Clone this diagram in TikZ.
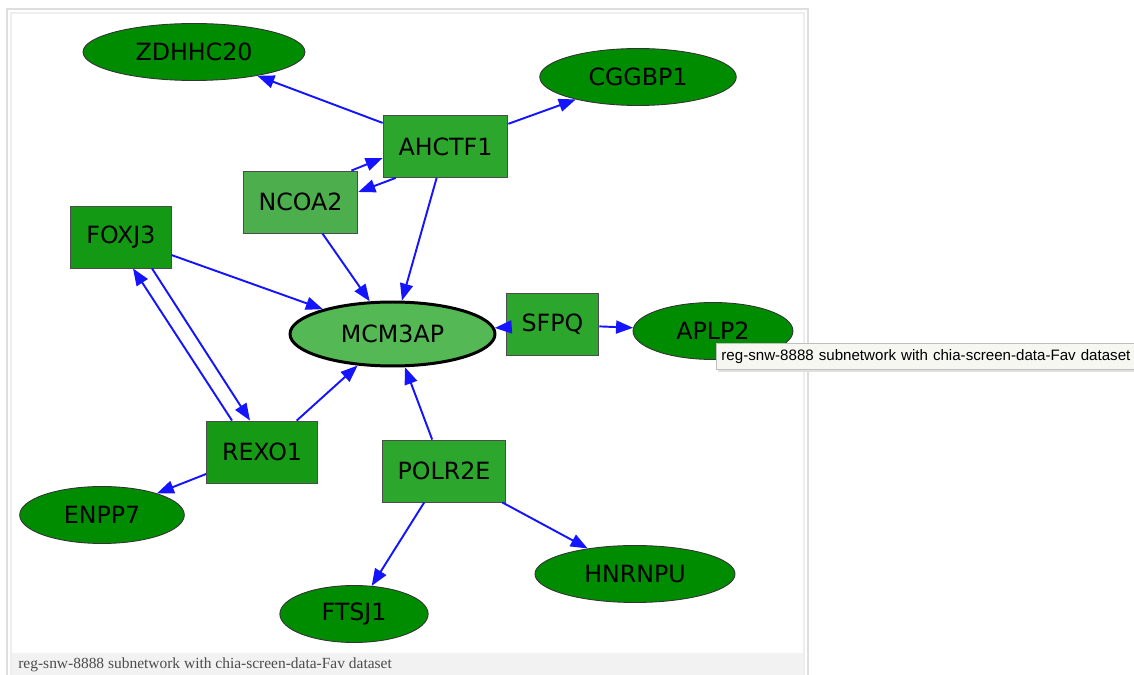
\documentclass[tikz,border=0pt]{standalone}
\usepackage{fontspec}
\newfontfamily\genefont{DejaVu Sans}
\newfontfamily\captionfont{Liberation Serif}
\newfontfamily\tipfont{Liberation Sans}
\usetikzlibrary{arrows.meta,shapes.geometric}

\definecolor{targetgreen}{RGB}{0,140,0}
\definecolor{hubgreen}{RGB}{84,184,84}
\definecolor{tfdark}{RGB}{20,153,20}
\definecolor{tfmid}{RGB}{44,166,44}
\definecolor{tflight}{RGB}{76,174,76}
\definecolor{edgeblue}{RGB}{20,20,255}
\definecolor{framegray}{RGB}{222,222,222}
\definecolor{capbg}{RGB}{242,242,242}
\definecolor{tipbg}{RGB}{247,247,242}

\begin{document}
\begin{tikzpicture}[x=0.02cm, y=-0.02cm,
    gene/.style={font=\genefont\fontsize{13.5}{15}\selectfont, text=black},
    target/.style={gene, ellipse, draw=black!80, line width=0.5pt, fill=targetgreen,
        inner xsep=0.4cm, inner ysep=0pt, minimum height=1.14cm},
    tf/.style={gene, rectangle, draw=black!70, line width=0.5pt,
        inner xsep=0.31cm, inner ysep=0pt, minimum height=1.24cm},
    hub/.style={gene, ellipse, draw=black, line width=1.7pt, fill=hubgreen,
        inner xsep=0.4cm, inner ysep=0pt, minimum width=4.1cm, minimum height=1.28cm},
    regulates/.style={draw=edgeblue, line width=1.1pt, -{Triangle[length=0.34cm, width=0.26cm]}}]
    \clip (0,0) rectangle (1134,675);

    % frame and caption strip
    \fill[capbg] (11,653) rectangle (804,680);
    \draw[framegray, line width=0.6pt] (7,680) |- (808,9) -- (808,680);
    \draw[framegray!50, line width=0.6pt] (11,680) |- (804,13) -- (804,680);
    \node[font=\captionfont\fontsize{8.8}{11}\selectfont, text=black!70, anchor=base west,
        inner sep=0pt] (caption) at (18,669) {reg-snw-8888 subnetwork with chia-screen-data-Fav dataset};

    \node[target] (zdhhc20) at (194,  52) {ZDHHC20};
    \node[target] (cggbp1)  at (638,  77) {CGGBP1};
    \node[tf, fill=tfmid]   (ahctf1)  at (445.5, 146.5) {AHCTF1};
    \node[tf, fill=tflight] (ncoa2)   at (300.5, 202) {NCOA2};
    \node[tf, fill=tfdark]  (foxj3)   at (121, 237) {FOXJ3};
    \node[hub]              (mcm3ap)  at (392.5, 334) {MCM3AP};
    \node[tf, fill=tfmid]   (sfpq)    at (552.5, 324.5) {SFPQ};
    \node[target] (aplp2)   at (713, 331) {APLP2};
    \node[tf, fill=tfdark!90!tfmid] (rexo1) at (262, 452) {REXO1};
    \node[tf, fill=tfmid]   (polr2e)  at (444, 471) {POLR2E};
    \node[target] (enpp7)   at (102, 515) {ENPP7};
    \node[target] (ftsj1)   at (354, 614) {FTSJ1};
    \node[target] (hnrnpu)  at (635, 574) {HNRNPU};

    \draw[regulates] (ahctf1) -- (zdhhc20);
    \draw[regulates] (ahctf1) -- (cggbp1);
    \draw[regulates] ([xshift=-0.14cm]ncoa2.north east) -- ([yshift=-0.23cm]ahctf1.west);
    \draw[regulates] ([xshift=0.26cm]ahctf1.south west) -- ([yshift=0.2cm]ncoa2.east);
    \draw[regulates] (ahctf1) -- (mcm3ap);
    \draw[regulates] (ncoa2) -- (mcm3ap);
    \draw[regulates] (foxj3) -- (mcm3ap);
    \draw[regulates] ([xshift=0.62cm]foxj3.south) -- ([xshift=-0.24cm]rexo1.north);
    \draw[regulates] ([xshift=-0.6cm]rexo1.north) -- ([xshift=0.24cm]foxj3.south);
    \draw[regulates] (rexo1) -- (mcm3ap);
    \draw[regulates] (rexo1) -- (enpp7);
    \draw[regulates] (sfpq) -- (mcm3ap);
    \draw[regulates] (sfpq) -- (aplp2);
    \draw[regulates] (polr2e) -- (mcm3ap);
    \draw[regulates] (polr2e) -- (ftsj1);
    \draw[regulates] (polr2e) -- (hnrnpu);

    % tooltip
    \fill[black!12] (718,345) rectangle (1140,372);
    \node[draw=black!25, fill=tipbg, line width=0.5pt, anchor=north west,
        minimum height=0.52cm, text width=9.6cm, inner xsep=0.1cm, inner ysep=0pt,
        font=\tipfont\fontsize{8.6}{10}\selectfont, align=left]
        (tooltip) at (716,343) {reg-snw-8888 subnetwork with chia-screen-data-Fav dataset};
\end{tikzpicture}
\end{document}
